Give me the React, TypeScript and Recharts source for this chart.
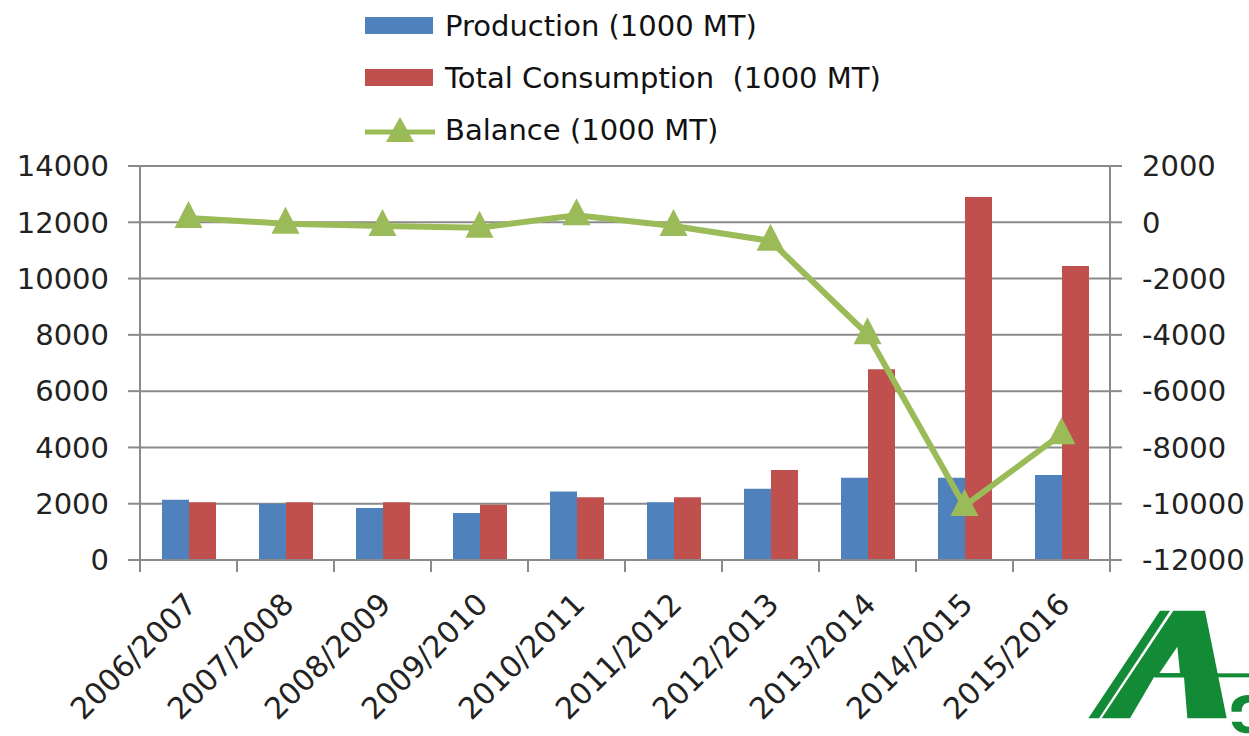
import {
  Bar,
  CartesianGrid,
  ComposedChart,
  Legend,
  Line,
  XAxis,
  YAxis,
} from "recharts";

const seasons = [
  "2006/2007",
  "2007/2008",
  "2008/2009",
  "2009/2010",
  "2010/2011",
  "2011/2012",
  "2012/2013",
  "2013/2014",
  "2014/2015",
  "2015/2016",
];
const production = [2140, 2000, 1850, 1670, 2430, 2050, 2530, 2920, 2920, 3020];
const consumption = [2050, 2050, 2050, 1960, 2230, 2230, 3200, 6780, 12900, 10450];
const balance = [150, -50, -130, -190, 250, -130, -660, -3980, -10080, -7530];

const leftTicks = [0, 2000, 4000, 6000, 8000, 10000, 12000, 14000];
const rightTicks = [-12000, -10000, -8000, -6000, -4000, -2000, 0, 2000];

const BLUE = "#4F81BD";
const RED = "#C0504D";
const GREEN = "#9BBB59";
const GRID = "#8a8a8a";
const FONT = "DejaVu Sans";

const data = seasons.map((season, i) => ({
  season,
  production: production[i],
  consumption: consumption[i],
  balance: balance[i],
}));

const legendItems = [
  { label: "Production (1000 MT)", color: BLUE, kind: "bar" },
  { label: "Total Consumption  (1000 MT)", color: RED, kind: "bar" },
  { label: "Balance (1000 MT)", color: GREEN, kind: "line" },
];

const BAND = 97;

function Triangle({ cx, cy }: { cx?: number; cy?: number }) {
  if (cx == null || cy == null) return null;
  return (
    <polygon
      points={`${cx},${cy - 17} ${cx - 14},${cy + 10} ${cx + 14},${cy + 10}`}
      fill={GREEN}
    />
  );
}

function SeasonTick({ x, y, payload, index }: any) {
  const left = x - BAND / 2;
  const tx = x + 10;
  const ty = y + 46;
  return (
    <g>
      <line x1={left} y1={y} x2={left} y2={y + 12} stroke={GRID} strokeWidth={2} />
      {index === seasons.length - 1 && (
        <line x1={x + BAND / 2} y1={y} x2={x + BAND / 2} y2={y + 12} stroke={GRID} strokeWidth={2} />
      )}
      <text
        x={tx}
        y={ty}
        textAnchor="end"
        transform={`rotate(-45, ${tx}, ${ty})`}
        fontFamily={FONT}
        fontSize={30}
        fill="#222"
      >
        {payload.value}
      </text>
    </g>
  );
}

function ChartLegend() {
  return (
    <div style={{ fontFamily: FONT, fontSize: 29, color: "#111" }}>
      {legendItems.map((item) => (
        <div
          key={item.label}
          style={{ display: "flex", alignItems: "center", height: 52, whiteSpace: "pre" }}
        >
          <svg width={85} height={30}>
            {item.kind === "bar" ? (
              <rect x={5} y={6} width={68} height={17} fill={item.color} />
            ) : (
              <g>
                <line x1={5} y1={17} x2={75} y2={17} stroke={item.color} strokeWidth={5} />
                <polygon points="40,2 26,27 54,27" fill={item.color} />
              </g>
            )}
          </svg>
          <span>{item.label}</span>
        </div>
      ))}
    </div>
  );
}

function Logo() {
  return (
    <svg
      width={169}
      height={146}
      style={{ position: "absolute", left: 1080, top: 590 }}
      viewBox="0 0 507 438"
    >
      <polygon points="25,385 57,385 270,62 240,62" fill="#138a36" />
      <polygon
        points="65,385 280,62 375,62 440,385 322,385 312,262 222,262 150,385"
        fill="#138a36"
      />
      <polygon points="238,250 292,170 300,250" fill="#fff" />
      <rect x={225} y={250} width={282} height={12} fill="#138a36" />
      <path d="M 507 315 C 470 315 450 335 455 365 L 485 365 C 485 345 495 338 507 338 Z" fill="#138a36" />
      <path d="M 455 395 C 460 420 480 430 507 430 L 507 410 C 495 410 487 405 485 395 Z" fill="#138a36" />
    </svg>
  );
}

export default function App() {
  return (
    <div
      style={{
        position: "absolute",
        left: 0,
        top: 0,
        width: 1249,
        height: 736,
        background: "#fff",
        overflow: "hidden",
      }}
    >
      <ComposedChart
        width={1249}
        height={736}
        data={data}
        margin={{ top: 166, right: 0, left: 0, bottom: 0 }}
        barGap={0}
        barCategoryGap="22%"
      >
        <CartesianGrid
          yAxisId="left"
          vertical={false}
          stroke={GRID}
          strokeWidth={2}
        />
        <XAxis
          dataKey="season"
          height={176}
          tickSize={0}
          tickMargin={0}
          interval={0}
          tick={<SeasonTick />}
          axisLine={{ stroke: GRID, strokeWidth: 2 }}
          tickLine={false}
        />
        <YAxis
          yAxisId="left"
          width={140}
          domain={[0, 14000]}
          ticks={leftTicks}
          interval={0}
          tickSize={12}
          tickMargin={19}
          tick={{ fontFamily: FONT, fontSize: 29, fill: "#222" }}
          axisLine={{ stroke: GRID, strokeWidth: 2 }}
          tickLine={{ stroke: GRID, strokeWidth: 2 }}
        />
        <YAxis
          yAxisId="right"
          orientation="right"
          width={139}
          domain={[-12000, 2000]}
          ticks={rightTicks}
          interval={0}
          tickSize={12}
          tickMargin={20}
          tick={{ fontFamily: FONT, fontSize: 29, fill: "#222" }}
          axisLine={{ stroke: GRID, strokeWidth: 2 }}
          tickLine={{ stroke: GRID, strokeWidth: 2 }}
        />
        <Legend
          layout="vertical"
          align="center"
          verticalAlign="middle"
          content={<ChartLegend />}
          wrapperStyle={{ top: 0, left: 360, width: 600 }}
        />
        <Bar
          yAxisId="left"
          dataKey="production"
          name="Production (1000 MT)"
          fill={BLUE}
          barSize={27}
          isAnimationActive={false}
        />
        <Bar
          yAxisId="left"
          dataKey="consumption"
          name="Total Consumption  (1000 MT)"
          fill={RED}
          barSize={27}
          isAnimationActive={false}
        />
        <Line
          yAxisId="right"
          dataKey="balance"
          name="Balance (1000 MT)"
          stroke={GREEN}
          strokeWidth={6}
          dot={<Triangle />}
          activeDot={false}
          isAnimationActive={false}
        />
      </ComposedChart>
      <Logo />
    </div>
  );
}
